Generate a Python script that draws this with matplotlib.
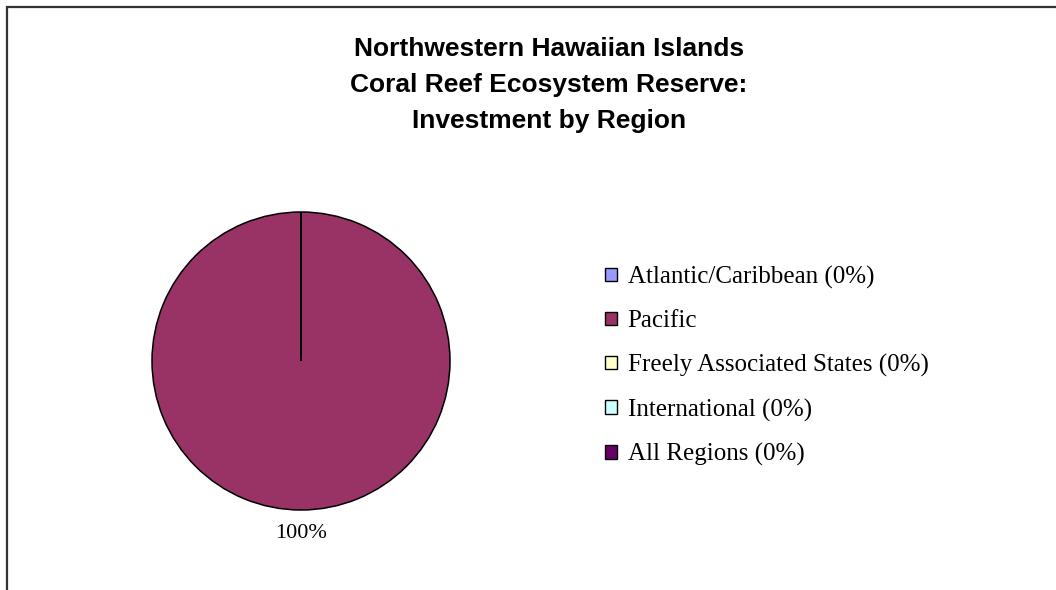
import matplotlib
matplotlib.use("Agg")
import matplotlib.pyplot as plt
from matplotlib.patches import Patch, Rectangle

# Investment share by region (percent of total)
regions = ["Atlantic/Caribbean", "Pacific", "Freely Associated States",
           "International", "All Regions"]
investment = [0, 100, 0, 0, 0]
colors = ["#9999FF", "#993366", "#FFFFCC", "#CCFFFF", "#660066"]

TITLE = ("Northwestern Hawaiian Islands\n"
         "Coral Reef Ecosystem Reserve:\n"
         "Investment by Region")

W, H = 1056, 590
fig = plt.figure(figsize=(W / 100, H / 100), dpi=100)
fig.patch.set_facecolor("white")

# chart area outline (only top and left edges fall inside the canvas)
fig.patches.append(Rectangle((7 / W, -0.1), 1.2, 1 - 7 / H + 0.1,
                             transform=fig.transFigure, fill=False,
                             edgecolor="#333333", linewidth=1.6))

fig.text(549 / W, 1 - 85 / H, TITLE, ha="center", va="center",
         fontsize=19, fontweight="bold", family="Liberation Sans",
         linespacing=1.62)

# pie axes: center (301, 361), radius 149 px
r = 149
ax = fig.add_axes([(301 - r) / W, (H - 361 - r) / H, 2 * r / W, 2 * r / H])
total = sum(investment)
pct_labels = [f"{v / total:.0%}" if v else "" for v in investment]
wedges, texts = ax.pie(investment, colors=colors, startangle=90,
                       counterclock=False, labels=pct_labels,
                       labeldistance=1.16,
                       wedgeprops={"edgecolor": "black", "linewidth": 1.1})
for t in texts:
    t.set_fontfamily("Liberation Serif")
    t.set_fontsize(16)
    t.set_horizontalalignment("center")
ax.set_xlim(-1, 1)
ax.set_ylim(-1, 1)
ax.set_aspect("equal")
ax.axis("off")

legend_labels = [name if v else f"{name} ({v / total:.0%})"
                 for name, v in zip(regions, investment)]
handles = [Patch(facecolor=c, edgecolor="black", linewidth=1.0) for c in colors]
fig.legend(handles, legend_labels, loc="center left",
           bbox_to_anchor=(605 / W, 1 - 366 / H), frameon=False,
           prop={"family": "Liberation Serif", "size": 18},
           handlelength=0.46, handleheight=0.46, handletextpad=0.44,
           labelspacing=0.86, borderpad=0, borderaxespad=0)

fig.savefig("out.png", dpi=100)
